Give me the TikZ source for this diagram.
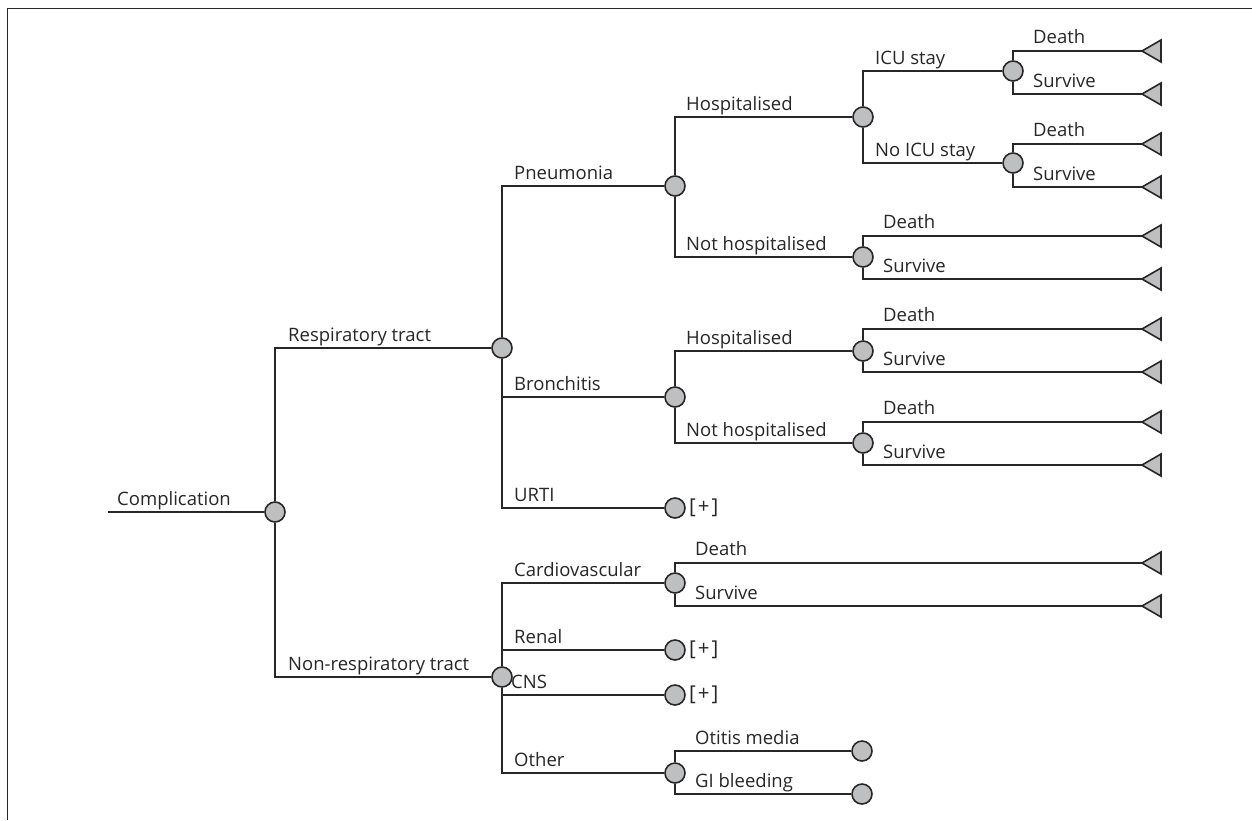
\documentclass[tikz,border=0pt]{standalone}
\usepackage{fontspec}
\setmainfont{Open Sans}[Ligatures=NoCommon]
\definecolor{ink}{RGB}{40,38,38}
\definecolor{chance}{RGB}{190,191,193}
\begin{document}
\begin{tikzpicture}[x=1pt,y=-1pt,
  every node/.style={font=\fontsize{18.5}{20}\selectfont, text=ink},
  chn/.style={circle, draw=ink, fill=chance, line width=1.6pt, minimum size=20pt, inner sep=0pt},
  br/.style={draw=ink, line width=1.6pt},
  lab/.style={anchor=base west, inner sep=0pt},
  plus/.style={anchor=west, inner sep=0pt, font=\fontsize{20.5}{22}\selectfont},
  term/.style={draw=ink, fill=chance, line width=1.6pt, line join=miter}]
\useasboundingbox (0,0) rectangle (1252,820);
\draw[draw=ink, line width=1.6pt] (7.5,820) -- (7.5,8.5) -- (1252,8.5);

% chance nodes
\node[chn] (C0) at (275,512) {};
\node[chn] (R) at (502,348) {};
\node[chn] (NR) at (502,677) {};
\node[chn] (P) at (675,186) {};
\node[chn] (B) at (675,397) {};
\node[chn] (U) at (675,508) {};
\node[chn] (PH) at (863,117) {};
\node[chn] (PN) at (863,257) {};
\node[chn] (ICU) at (1013,71) {};
\node[chn] (NICU) at (1013,163) {};
\node[chn] (BH) at (863,351) {};
\node[chn] (BN) at (863,443) {};
\node[chn] (CV) at (675,583) {};
\node[chn] (RN) at (675,650) {};
\node[chn] (CN) at (675,695) {};
\node[chn] (OT) at (675,773) {};
\node[chn] (OM) at (862,751) {};
\node[chn] (GI) at (862,794) {};

% terminal coordinates
\coordinate (start) at (108,512);
\coordinate (t1) at (1142,51);
\coordinate (t2) at (1142,94);
\coordinate (t3) at (1142,144);
\coordinate (t4) at (1142,187);
\coordinate (t5) at (1142,236);
\coordinate (t6) at (1142,279);
\coordinate (t7) at (1142,329);
\coordinate (t8) at (1142,372);
\coordinate (t9) at (1142,422);
\coordinate (t10) at (1142,465);
\coordinate (t11) at (1142,563);
\coordinate (t12) at (1142,606);

% connectors
\draw[br] (start) -- (C0);
\draw[br] (C0) |- (R);
\draw[br] (C0) |- (NR);
\draw[br] (R) |- (P);
\draw[br] (R) |- (B);
\draw[br] (R) |- (U);
\draw[br] (P) |- (PH);
\draw[br] (P) |- (PN);
\draw[br] (PH) |- (ICU);
\draw[br] (PH) |- (NICU);
\draw[br] (B) |- (BH);
\draw[br] (B) |- (BN);
\draw[br] (NR) |- (CV);
\draw[br] (NR) |- (RN);
\draw[br] (NR) |- (CN);
\draw[br] (NR) |- (OT);
\draw[br] (OT) |- (OM);
\draw[br] (OT) |- (GI);
\draw[br] (ICU) |- (t1);
\draw[br] (ICU) |- (t2);
\draw[br] (NICU) |- (t3);
\draw[br] (NICU) |- (t4);
\draw[br] (PN) |- (t5);
\draw[br] (PN) |- (t6);
\draw[br] (BH) |- (t7);
\draw[br] (BH) |- (t8);
\draw[br] (BN) |- (t9);
\draw[br] (BN) |- (t10);
\draw[br] (CV) |- (t11);
\draw[br] (CV) |- (t12);

% terminal triangles
\foreach \t in {t1,t2,t3,t4,t5,t6,t7,t8,t9,t10,t11,t12}
  \draw[term] (\t) -- ++(19,-11) -- ++(0,22) -- cycle;

% labels
\node[lab] (lC) at (117,505) {Complication};
\node[lab] (lR) at (288,341) {Respiratory tract};
\node[lab] (lNR) at (288,670) {Non-respiratory tract};
\node[lab] (lP) at (514,179) {Pneumonia};
\node[lab] (lB) at (514,390) {Bronchitis};
\node[lab] (lU) at (514,501) {URTI};
\node[lab] (lPH) at (686,110) {Hospitalised};
\node[lab] (lPN) at (686,250) {Not hospitalised};
\node[lab] (lBH) at (686,344) {Hospitalised};
\node[lab] (lBN) at (686,436) {Not hospitalised};
\node[lab] (lICU) at (875,64) {ICU stay};
\node[lab] (lNICU) at (875,156) {No ICU stay};
\node[lab] (d1) at (1033,43) {Death};
\node[lab] (s1) at (1033,87) {Survive};
\node[lab] (d2) at (1033,136) {Death};
\node[lab] (s2) at (1033,180) {Survive};
\node[lab] (d3) at (883,228) {Death};
\node[lab] (s3) at (883,272) {Survive};
\node[lab] (d4) at (883,321) {Death};
\node[lab] (s4) at (883,365) {Survive};
\node[lab] (d5) at (883,414) {Death};
\node[lab] (s5) at (883,458) {Survive};
\node[lab] (lCV) at (514,576) {Cardiovascular};
\node[lab] (d6) at (695,555) {Death};
\node[lab] (s6) at (695,599) {Survive};
\node[lab] (lRN) at (514,643) {Renal};
\node[lab] (lCN) at (511,688) {CNS};
\node[lab] (lOT) at (514,766) {Other};
\node[lab] (lOM) at (695,744) {Otitis media};
\node[lab] (lGI) at (695,787) {GI bleeding};
\node[plus] (pU) at (689,508) {[\kern2pt+\kern2pt]};
\node[plus] (pR) at (689,650) {[\kern2pt+\kern2pt]};
\node[plus] (pC) at (689,695) {[\kern2pt+\kern2pt]};
\end{tikzpicture}
\end{document}
